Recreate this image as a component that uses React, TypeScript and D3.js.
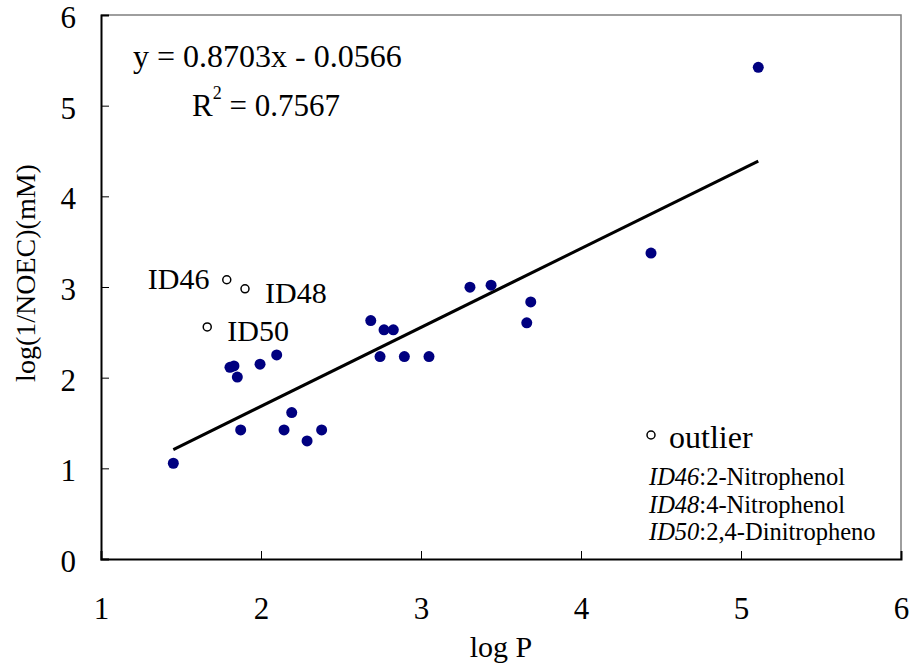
import React, { useEffect, useRef } from 'react';
import * as d3 from 'd3';

// regular compounds (log P, log(1/NOEC))
const logP = [1.452, 1.873, 1.806, 1.831, 1.852, 1.994, 2.098, 2.144, 2.192, 2.288, 2.379,
  2.686, 2.744, 2.769, 2.827, 2.896, 3.05, 3.306, 3.438, 3.661, 3.686, 4.4375, 5.108];
const logNOEC = [1.056, 1.424, 2.114, 2.13, 2.006, 2.149, 2.251, 1.424, 1.615, 1.302, 1.424,
  2.63, 2.233, 2.528, 2.528, 2.233, 2.233, 2.998, 3.02, 2.605, 2.835, 3.374, 5.423];

// outliers
const outlierIds = ['ID46', 'ID48', 'ID50'];
const outlierLogP = [1.786, 1.9, 1.664];
const outlierLogNOEC = [3.08, 2.98, 2.56];
const outlierNames = ['2-Nitrophenol', '4-Nitrophenol', '2,4-Dinitropheno'];

const slope = 0.8703;
const intercept = -0.0566;
const rSquared = '0.7567';

const xTicks = [1, 2, 3, 4, 5, 6];
const yTicks = [0, 1, 2, 3, 4, 5, 6];

const FONT = '"Liberation Serif", "Times New Roman", serif';

const App = () => {
  const svgRef = useRef<SVGSVGElement>(null);

  useEffect(() => {
    const width = 913;
    const height = 668;
    const margin = { top: 15, right: 12, bottom: 109, left: 101 };
    const w = width - margin.left - margin.right;
    const h = height - margin.top - margin.bottom;

    const root = d3.select(svgRef.current);
    root.selectAll('*').remove();
    root.attr('width', width).attr('height', height);

    const svg = root.append('g').attr('transform', `translate(${margin.left},${margin.top})`);

    const x = d3.scaleLinear().domain([1, 6]).range([0, w]);
    const y = d3.scaleLinear().domain([0, 6]).range([h, 0]);

    // frame (top/right in grey)
    svg.append('path')
      .attr('d', `M0,0H${w}V${h}`)
      .attr('fill', 'none')
      .attr('stroke', '#7f7f7f')
      .attr('stroke-width', 1.5);

    // axes, ticks pointing inward
    const xAxis = svg.append('g')
      .attr('transform', `translate(0,${h})`)
      .call(d3.axisBottom(x).tickValues(xTicks).tickSize(-8).tickPadding(38).tickFormat(d3.format('d')));
    const yAxis = svg.append('g')
      .call(d3.axisLeft(y).tickValues(yTicks).tickSize(-8).tickPadding(25).tickFormat(d3.format('d')));

    [xAxis, yAxis].forEach(a => {
      a.select('.domain').attr('stroke', '#000').attr('stroke-width', 2);
      a.selectAll('.tick line').attr('stroke', '#000').attr('stroke-width', 1);
      a.selectAll('text')
        .attr('font-family', FONT)
        .attr('font-size', 31)
        .attr('fill', '#000');
    });
    yAxis.selectAll('.tick text').attr('dy', '0.4em');

    // axis titles
    svg.append('text')
      .attr('x', w / 2)
      .attr('y', h + 98)
      .attr('text-anchor', 'middle')
      .attr('font-family', FONT)
      .attr('font-size', 30)
      .text('log P');

    svg.append('text')
      .attr('transform', `translate(${-66},${258}) rotate(-90)`)
      .attr('text-anchor', 'middle')
      .attr('font-family', FONT)
      .attr('font-size', 28)
      .text('log(1/NOEC)(mM)');

    // regression line
    const [x0, x1] = d3.extent(logP) as [number, number];
    svg.append('line')
      .attr('x1', x(x0)).attr('y1', y(slope * x0 + intercept))
      .attr('x2', x(x1)).attr('y2', y(slope * x1 + intercept))
      .attr('stroke', '#000')
      .attr('stroke-width', 3);

    // points
    svg.selectAll('.pt')
      .data(logP.map((v, i) => [v, logNOEC[i]]))
      .enter().append('circle')
      .attr('class', 'pt')
      .attr('cx', d => x(d[0]))
      .attr('cy', d => y(d[1]))
      .attr('r', 5.5)
      .attr('fill', '#000080');

    svg.selectAll('.outlier')
      .data(outlierLogP.map((v, i) => [v, outlierLogNOEC[i]]))
      .enter().append('circle')
      .attr('class', 'outlier')
      .attr('cx', d => x(d[0]))
      .attr('cy', d => y(d[1]))
      .attr('r', 4)
      .attr('fill', '#fff')
      .attr('stroke', '#000')
      .attr('stroke-width', 1.5);

    // outlier labels: [dx, dy] relative to point
    const labelOffsets = [[-79, 9], [20, 14], [20, 14]];
    outlierIds.forEach((id, i) => {
      svg.append('text')
        .attr('x', x(outlierLogP[i]) + labelOffsets[i][0])
        .attr('y', y(outlierLogNOEC[i]) + labelOffsets[i][1])
        .attr('font-family', FONT)
        .attr('font-size', 30)
        .text(id);
    });

    // equation
    svg.append('text')
      .attr('x', 32).attr('y', 52)
      .attr('font-family', FONT)
      .attr('font-size', 32)
      .text(`y = ${slope}x - ${Math.abs(intercept)}`);

    const r2 = svg.append('text')
      .attr('x', 91).attr('y', 101)
      .attr('font-family', FONT)
      .attr('font-size', 31);
    r2.append('tspan').text('R');
    r2.append('tspan').attr('font-size', 18).attr('dy', -17).text('2');
    r2.append('tspan').attr('dy', 17).text(` = ${rSquared}`);

    // legend
    const lx = x(4.4375);
    svg.append('circle')
      .attr('cx', lx).attr('cy', 420)
      .attr('r', 4)
      .attr('fill', '#fff')
      .attr('stroke', '#000')
      .attr('stroke-width', 1.5);
    svg.append('text')
      .attr('x', lx + 18).attr('y', 433)
      .attr('font-family', FONT)
      .attr('font-size', 32)
      .text('outlier');

    outlierIds.forEach((id, i) => {
      const t = svg.append('text')
        .attr('x', lx - 2)
        .attr('y', 470 + i * 27.5)
        .attr('font-family', FONT)
        .attr('font-size', 24.5);
      t.append('tspan').attr('font-style', 'italic').text(id);
      t.append('tspan').text(`:${outlierNames[i]}`);
    });
  }, []);

  return (
    <svg
      ref={svgRef}
      style={{ position: 'absolute', left: 0, top: 0, display: 'block', background: '#fff' }}
    />
  );
};

export default App;
